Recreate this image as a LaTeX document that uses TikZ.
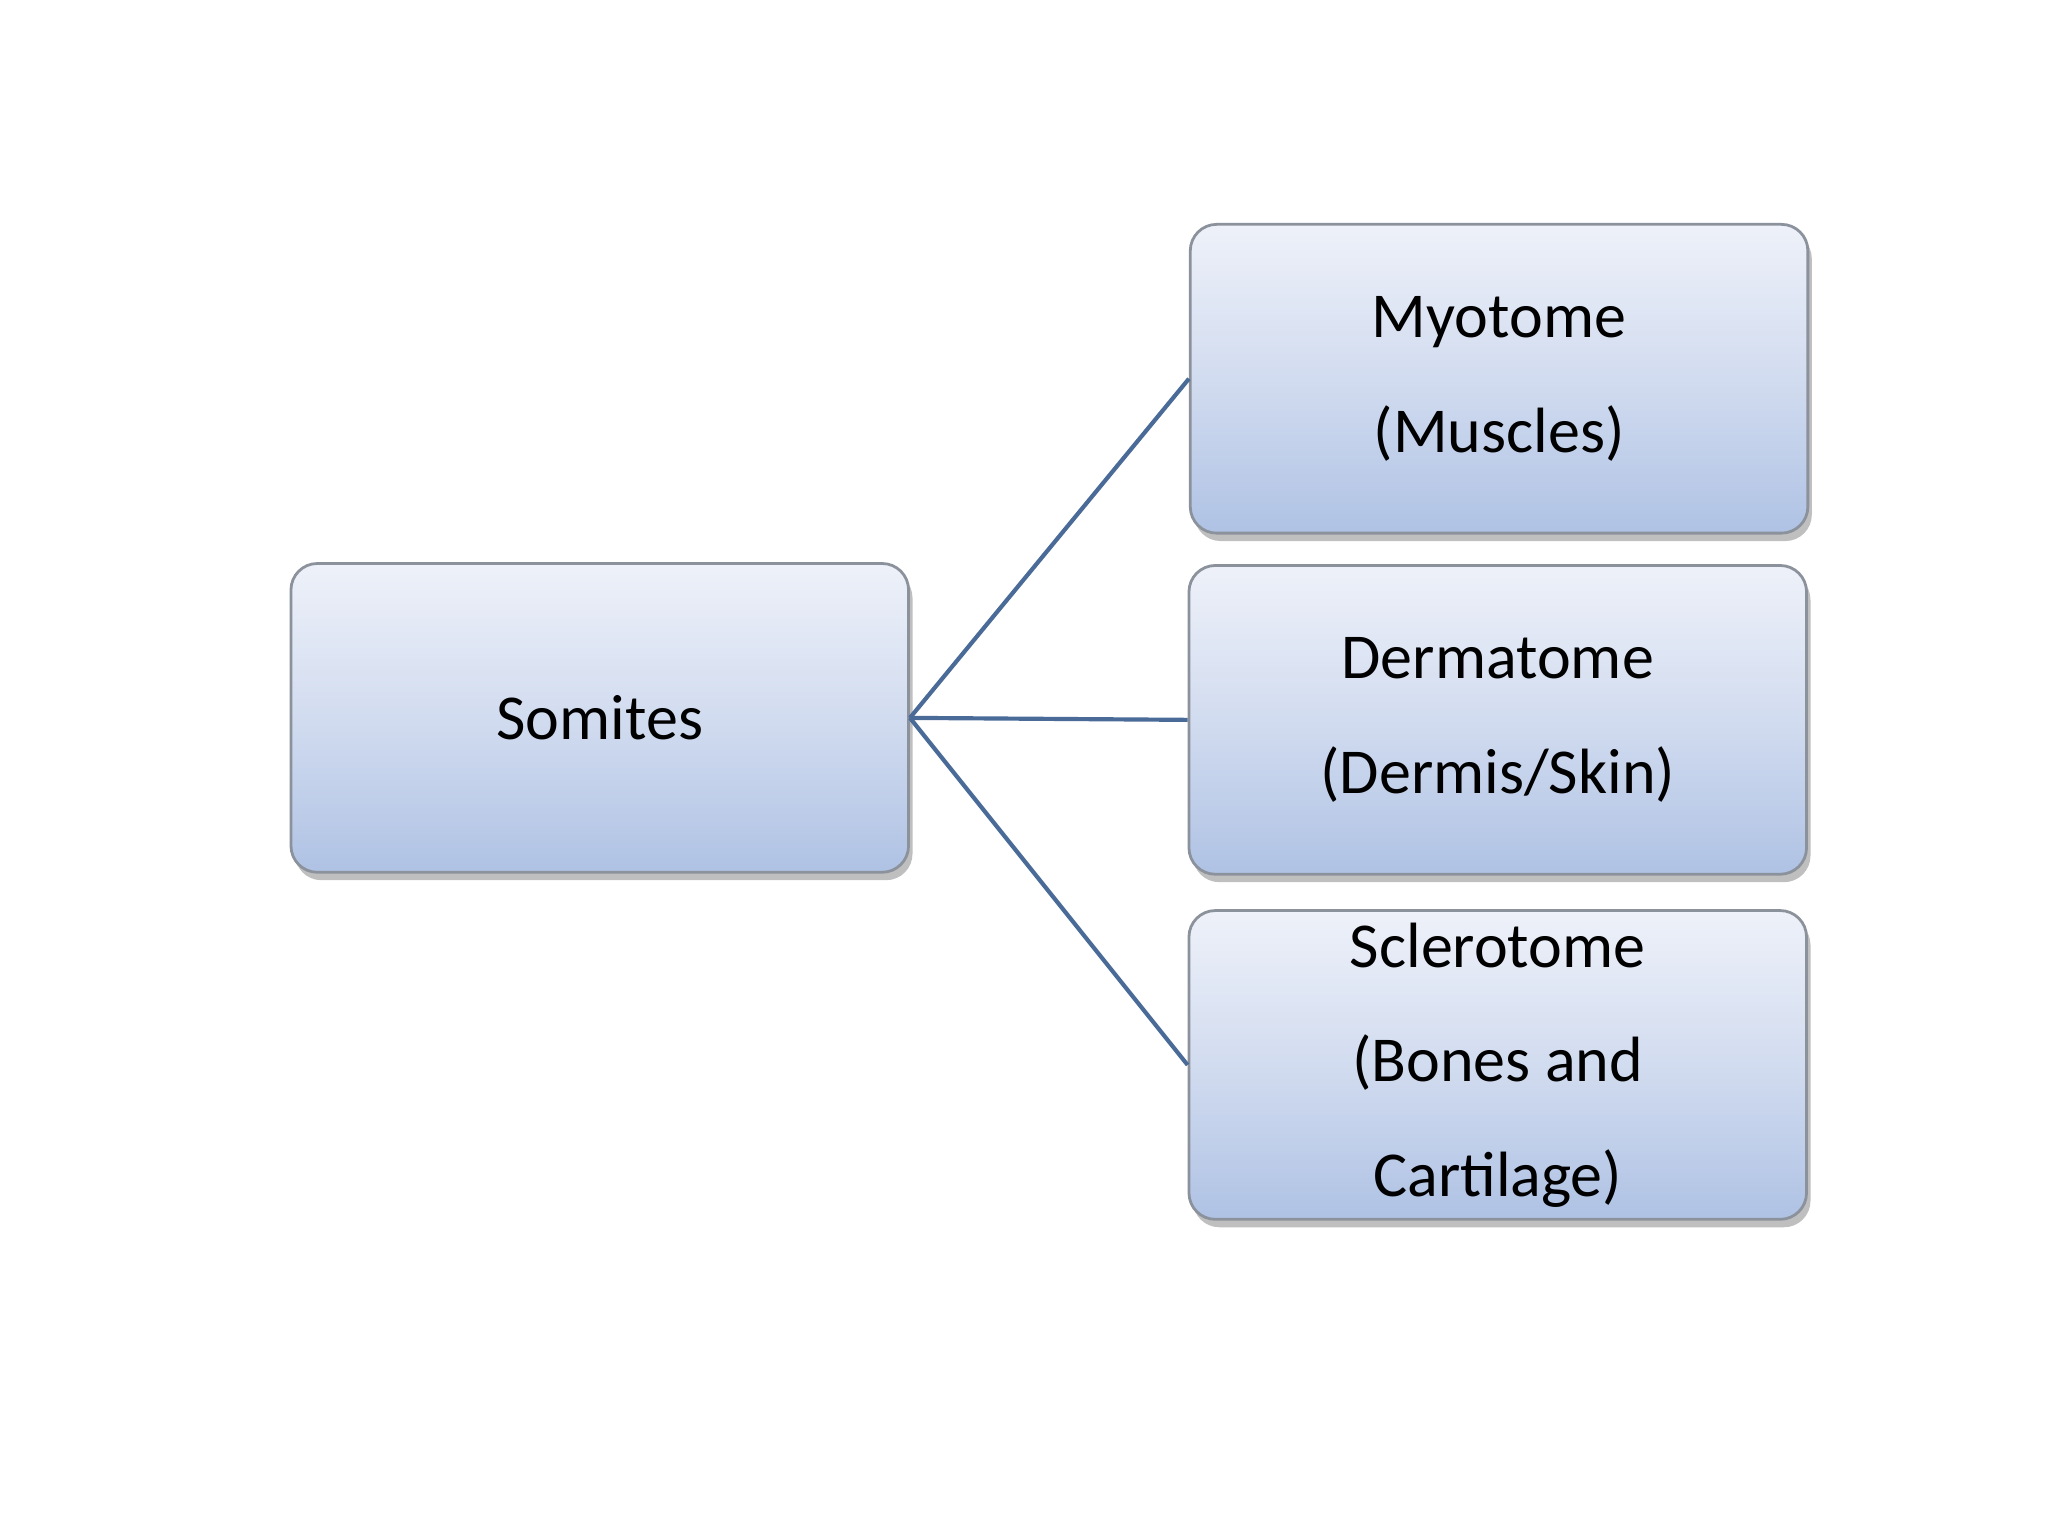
\documentclass[tikz,border=0pt]{standalone}
\usepackage{fontspec}
\setmainfont{Carlito}
\usetikzlibrary{shadows}
\definecolor{lineblue}{HTML}{4A6A98}
\definecolor{boxtop}{HTML}{EEF1F9}
\definecolor{boxbot}{HTML}{AFC2E4}
\definecolor{edge}{HTML}{8C929C}
\begin{document}
\begin{tikzpicture}[x=0.1mm,y=-0.1mm,
  box/.style={draw=edge,line width=0.6pt,rounded corners=2mm,
    minimum width=46.8mm,minimum height=23.4mm,inner sep=0pt,
    top color=boxtop,bottom color=boxbot,middle color=boxtop!55!boxbot,
    drop shadow={shadow xshift=0.3mm,shadow yshift=-0.6mm,fill=black,opacity=0.25},
    align=center,font=\fontsize{13.8}{24.7}\selectfont},
  conn/.style={draw=lineblue,line width=0.9pt}]
\useasboundingbox (0,0) rectangle (1552,1164);
\node[box] (som) at (454.5,544) {Somites};
\node[box] (myo) at (1136,287) {Myotome\\(Muscles)};
\node[box] (der) at (1135,545.5) {Dermatome\\(Dermis/Skin)};
\node[box] (scl) at (1135,807) {\raisebox{0pt}[0pt][0pt]{}Sclerotome\\[0pt]\fontsize{13.8}{17.6}\selectfont(Bones and\\Cartilage)};
\draw[conn] (som.east) -- (myo.west);
\draw[conn] (som.east) -- (der.west);
\draw[conn] (som.east) -- (scl.west);
\end{tikzpicture}
\end{document}
